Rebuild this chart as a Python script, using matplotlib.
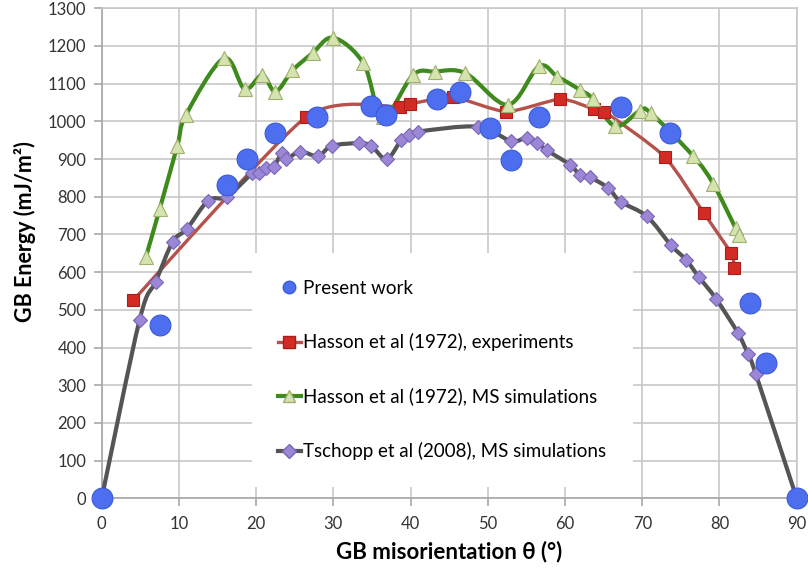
import numpy as np
import matplotlib
matplotlib.use("Agg")
import matplotlib.pyplot as plt
from matplotlib.path import Path
from matplotlib.patches import PathPatch
from matplotlib.lines import Line2D

plt.rcParams['font.family'] = ['Lato', 'DejaVu Sans']

# Present work
present_x = [0, 7.5, 16.2, 18.8, 22.5, 27.9, 34.9, 36.8, 43.4, 46.4, 50.3, 53.0,
             56.6, 67.3, 73.6, 83.9, 86.0, 90]
present_y = [0, 460, 830, 900, 968, 1011, 1041, 1017, 1059, 1079, 982, 898,
             1011, 1039, 968, 517, 358, 0]

# Hasson et al (1972), experiments
hexp_x = [4.1, 26.5, 38.6, 39.9, 45.5, 52.4, 59.4, 63.8, 65.1, 72.9, 78.0, 81.5, 81.9]
hexp_y = [526, 1012, 1039, 1046, 1064, 1026, 1059, 1032, 1026, 906, 756, 650, 612]

# Hasson et al (1972), MS simulations
hms_x = [5.7, 7.5, 9.8, 10.9, 15.8, 18.5, 20.8, 22.5, 24.7, 27.3, 30.0, 33.9, 36.4,
         40.3, 43.1, 47.1, 52.6, 56.6, 59.0, 62.0, 63.6, 66.5, 69.7, 71.1, 76.6,
         79.2, 82.1, 82.5]
hms_y = [639, 767, 936, 1017, 1167, 1086, 1123, 1079, 1135, 1181, 1222, 1154, 1012,
         1123, 1132, 1128, 1044, 1146, 1119, 1083, 1060, 987, 1028, 1022, 908,
         834, 716, 699]

# Tschopp et al (2008), MS simulations
tsc_x = [0, 4.9, 7.0, 9.2, 11.0, 13.8, 16.2, 19.5, 20.4, 21.3, 22.3, 23.3, 23.9,
         25.7, 28.0, 29.8, 33.3, 34.9, 36.9, 38.8, 39.8, 41.0, 48.7, 53.0, 55.1,
         56.4, 57.6, 60.7, 61.9, 63.2, 65.6, 67.2, 70.6, 73.7, 75.7, 77.3, 79.6,
         82.4, 83.7, 84.7, 90]
tsc_y = [0, 473, 575, 681, 714, 790, 800, 862, 862, 876, 880, 915, 900,
         920, 908, 935, 942, 935, 900, 951, 964, 973, 986, 948, 957,
         943, 924, 884, 858, 852, 823, 787, 748, 672, 632, 588, 528,
         438, 382, 330, 0]

labels = ["Present work",
          "Hasson et al (1972), experiments",
          "Hasson et al (1972), MS simulations",
          "Tschopp et al (2008), MS simulations"]


def smooth_path(xs, ys, k=6.0):
    # Excel style smoothed line: cubic bezier through every point
    p = np.column_stack([xs, ys]).astype(float)
    verts = [p[0]]
    codes = [Path.MOVETO]
    n = len(p)
    for i in range(n - 1):
        prev = p[i - 1] if i > 0 else p[i]
        nxt = p[i + 2] if i + 2 < n else p[i + 1]
        c1 = p[i] + (p[i + 1] - prev) / k
        c2 = p[i + 1] - (nxt - p[i]) / k
        verts += [c1, c2, p[i + 1]]
        codes += [Path.CURVE4] * 3
    return Path(verts, codes)


fig = plt.figure(figsize=(8.08, 5.73), dpi=100)
ax = fig.add_axes([0.1259, 0.1304, 0.8601, 0.8551])

red_line = '#b4524b'
green_line = '#3f8a1c'
gray_line = '#555555'

for xs, ys, col, lw, k in [(hexp_x, hexp_y, red_line, 2.4, 9.0),
                           (hms_x, hms_y, green_line, 3.0, 6.0),
                           (tsc_x, tsc_y, gray_line, 3.0, 6.0)]:
    ax.add_patch(PathPatch(smooth_path(xs, ys, k), facecolor='none', edgecolor=col,
                           lw=lw, capstyle='round', joinstyle='round', zorder=3))

ax.plot(hexp_x, hexp_y, ls='none', marker='s', ms=9, mfc='#d42a24', mec='#a81e1a',
        mew=0.8, zorder=4)
ax.plot(hms_x, hms_y, ls='none', marker='^', ms=10, mfc='#d5e3ae', mec='#9fb070',
        mew=0.8, zorder=5)
ax.plot(tsc_x, tsc_y, ls='none', marker='D', ms=7.5, mfc='#9b87d6', mec='#7a66b6',
        mew=0.8, zorder=6)
ax.plot(present_x, present_y, ls='none', marker='o', ms=15, mfc='#4d6fef', mec='#3b5ad6',
        mew=0.8, zorder=7, clip_on=False)

ax.set_xlim(0, 90)
ax.set_ylim(0, 1300)
ax.set_xticks(range(0, 91, 10))
ax.set_yticks(range(0, 1301, 100))
ax.grid(True, color='#c8c8c8', lw=1.2, zorder=0)
ax.set_axisbelow(True)
for side in ['top', 'right']:
    ax.spines[side].set_color('#c8c8c8')
    ax.spines[side].set_linewidth(1.2)
for side in ['left', 'bottom']:
    ax.spines[side].set_color('#a8a8a8')
    ax.spines[side].set_linewidth(1.2)
ax.tick_params(axis='both', direction='out', length=6, width=1.2, color='#a8a8a8',
               labelsize=12, labelcolor='#333333', pad=5)
ax.tick_params(axis='x', pad=7)

ax.set_xlabel("GB misorientation θ (°)", fontsize=16, fontweight='bold', labelpad=6)
ax.set_ylabel("GB Energy (mJ/m²)", fontsize=15.5, fontweight='bold', labelpad=8)
ax.yaxis.set_label_coords(-0.094, 0.545)

handles = [
    Line2D([], [], ls='none', marker='o', ms=9, mfc='#4d6fef', mec='#3b5ad6'),
    Line2D([], [], color=red_line, lw=2.4, marker='s', ms=8, mfc='#d42a24', mec='#a81e1a'),
    Line2D([], [], color=green_line, lw=3.0, marker='^', ms=9, mfc='#d5e3ae', mec='#9fb070'),
    Line2D([], [], color=gray_line, lw=3.0, marker='D', ms=7, mfc='#9b87d6', mec='#7a66b6'),
]
leg = ax.legend(handles, labels, loc='upper left', bbox_to_anchor=(0.216, 0.50),
                fontsize=13.5, frameon=True, fancybox=False, framealpha=1,
                edgecolor='none', facecolor='white', handlelength=1.2,
                handletextpad=0.15, labelspacing=1.95, borderpad=1.4,
                borderaxespad=0)
leg.set_zorder(2.5)

fig.savefig("out.png", dpi=100)
